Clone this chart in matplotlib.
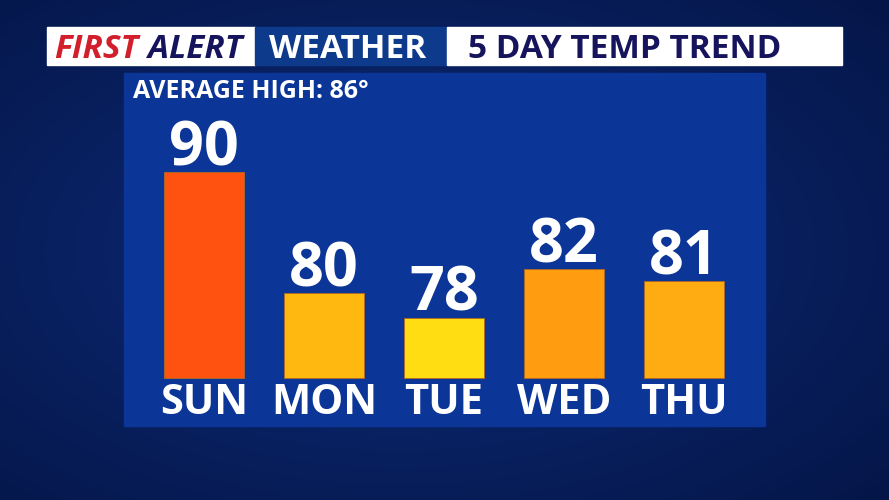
import numpy as np
import matplotlib
matplotlib.use("Agg")
import matplotlib.pyplot as plt
from matplotlib.patches import Rectangle

days = ["SUN", "MON", "TUE", "WED", "THU"]
highs = [90, 80, 78, 82, 81]
bar_colors = ["#FF5210", "#FFB810", "#FFDD12", "#FF9C10", "#FFAB12"]
avg_high = 86
title_left = "FIRST"
title_left2 = "ALERT"
title_mid = "WEATHER"
title_right = "5 DAY TEMP TREND"
baseline = 73

FONT = "Open Sans"
W, H = 889, 500
fig = plt.figure(figsize=(W / 100, H / 100), dpi=100)

# background axes in pixel coordinates
bg = fig.add_axes([0, 0, 1, 1])
bg.set_xlim(0, W)
bg.set_ylim(H, 0)
bg.axis("off")
yy, xx = np.mgrid[0:H:2, 0:W:2]
r = np.sqrt(((xx - W * 0.45) / W) ** 2 + ((yy - H * 0.5) / H) ** 2)
shade = np.clip(1 - r * 1.25, 0, 1)
c0 = np.array([0x04, 0x14, 0x44]) / 255
c1 = np.array([0x0D, 0x2C, 0x7A]) / 255
img = c0[None, None, :] + (c1 - c0)[None, None, :] * shade[..., None]
bg.imshow(img, extent=[0, W, H, 0], aspect="auto", interpolation="bilinear", zorder=0)

# header boxes
bg.add_patch(Rectangle((47, 27), 208, 38, color="white", zorder=2))
bg.add_patch(Rectangle((255, 27), 192, 38, color="#0E3A8C", zorder=2))
bg.add_patch(Rectangle((447, 27), 395, 38, color="white", zorder=2))
bg.text(54, 58, title_left, color="#D21F2B", fontsize=24, fontweight="bold",
        style="italic", family=FONT, va="baseline", ha="left", zorder=3)
bg.text(243, 58, title_left2, color="#16145C", fontsize=24, fontweight="bold",
        style="italic", family=FONT, va="baseline", ha="right", zorder=3)
bg.text(347.5, 58, title_mid, color="white", fontsize=24, fontweight="bold",
        family=FONT, va="baseline", ha="center", zorder=3)
bg.text(468, 58, title_right, color="#16145C", fontsize=24, fontweight="bold",
        family=FONT, va="baseline", ha="left", zorder=3)

# panel
bg.add_patch(Rectangle((124, 73), 641, 353, color="#0B3596", zorder=2))
bg.text(133, 97.5, f"AVERAGE HIGH: {avg_high}°", color="white", fontsize=18,
        fontweight="bold", family=FONT, va="baseline", ha="left", zorder=3)

# bar axes covering panel
px_per_deg = 12.1
ymin = baseline - (426 - 378) / px_per_deg
ymax = baseline + (378 - 73) / px_per_deg
ax = fig.add_axes([124 / W, (H - 426) / H, 641 / W, 353 / H])
ax.set_xlim((124 - 204) / 120, (765 - 204) / 120)
ax.set_ylim(ymin, ymax)
ax.axis("off")
ax.patch.set_alpha(0)
x = np.arange(len(days))
heights = [h - baseline for h in highs]
ax.bar(x, heights, bottom=baseline, width=80 / 120, color=bar_colors,
       edgecolor="#B06A20", linewidth=0.6, zorder=3)
for i, (d, h) in enumerate(zip(days, highs)):
    ax.annotate(str(h), xy=(i, h), xytext=(0, 7 * 0.72), textcoords="offset points",
                ha="center", va="baseline", color="white", fontsize=44,
                fontweight="bold", family=FONT, zorder=4)
    ax.annotate(d, xy=(i, baseline), xytext=(0, -36.5 * 0.72), textcoords="offset points",
                ha="center", va="baseline", color="white", fontsize=30,
                fontweight="bold", family=FONT, zorder=4, annotation_clip=False)

fig.savefig("out.png", dpi=100)
